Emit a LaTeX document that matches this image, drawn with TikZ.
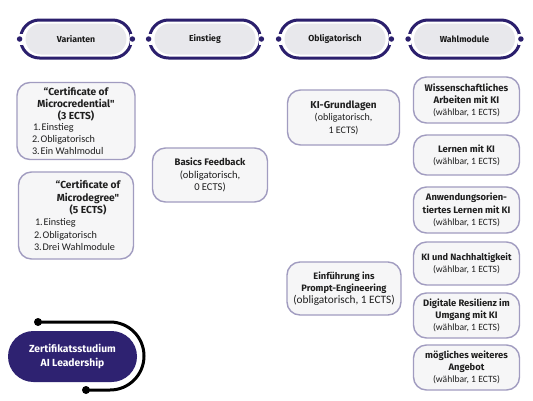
\documentclass[tikz,border=0pt]{standalone}
\usepackage{fontspec}
\setmainfont{Carlito}
\newfontfamily\fira{Fira Sans}
\newcommand{\tb}[2][10]{{\fira\bfseries\fontsize{#1}{12}\selectfont #2}}
\definecolor{ringblue}{HTML}{2B1F6D}
\definecolor{pillgray}{HTML}{E8E8EC}
\definecolor{boxline}{HTML}{A19CC0}
\definecolor{boxfill}{HTML}{F6F6F7}
\definecolor{darkpill}{HTML}{2E2271}
\tikzset{
  ring/.style={draw=ringblue,line width=3pt,rounded corners=19pt,minimum width=111pt,minimum height=38pt,inner sep=0pt},
  inpill/.style={fill=pillgray,rounded corners=15.5pt,minimum width=101pt,minimum height=31pt,inner sep=0pt,font=\fira\bfseries\fontsize{8.7}{10}\selectfont,text=black!90},
  gapbox/.style={fill=white,minimum width=7pt,minimum height=11pt,inner sep=0pt},
  dot/.style={circle,fill=ringblue,minimum size=5.5pt,inner sep=0pt},
  mbox/.style={draw=boxline,line width=1.4pt,fill=boxfill,rounded corners=13pt,align=center,inner sep=1pt,text=black!88},
  fsA/.style={font=\fontsize{10}{12.5}\selectfont},
  fsB/.style={font=\fontsize{10.5}{12.5}\selectfont},
  fsC/.style={font=\fontsize{11.3}{11.8}\selectfont},
  fsW/.style={font=\fontsize{9.6}{12.2}\selectfont},
  bdot/.style={circle,fill=black,minimum size=8pt,inner sep=0pt}
}
\newcommand{\hpill}[3]{%
  \node[ring] (#1) at (#2,39) {};
  \node[gapbox] (#1-gl) at (#1.west) {};
  \node[gapbox] (#1-gr) at (#1.east) {};
  \node[dot] (#1-dl) at ([xshift=0.6pt]#1.west) {};
  \node[dot] (#1-dr) at ([xshift=-0.6pt]#1.east) {};
  \node[inpill] (#1-in) at (#2,39) {#3};
}
\begin{document}
\begin{tikzpicture}[x=1pt,y=-1pt]
\useasboundingbox[fill=white] (0,0) rectangle (533,400);
% header pills
\hpill{h1}{76}{Varianten}
\hpill{h2}{205}{Einstieg}
\hpill{h3}{335}{Obligatorisch}
\hpill{h4}{464.5}{Wahlmodule}
% Varianten
\node[mbox,minimum width=118pt,minimum height=77pt] (v1) at (76,121) {%
  \begin{minipage}{104pt}
  \centering\fira\bfseries\fontsize{10.2}{11.7}\selectfont “Certificate of\\ Microcredential"\\ (3 ECTS)\par
  \raggedright\normalfont\fontsize{10.2}{11.7}\selectfont\hspace*{9pt}1.\kern0.8pt Einstieg\\ \hspace*{8pt}2.\kern0.8pt Obligatorisch\\ \hspace*{8pt}3.\kern0.8pt Ein Wahlmodul\end{minipage}};
\node[mbox,minimum width=115pt,minimum height=87pt] (v2) at (76,215.5) {%
  \begin{minipage}{104pt}
  \centering\fira\bfseries\fontsize{10.2}{12.4}\selectfont\hspace*{24pt}“Certificate of\\ \hspace*{24pt}Microdegree"\\ \hspace*{24pt}(5 ECTS)\par
  \raggedright\normalfont\fontsize{10.2}{12.4}\selectfont\hspace*{11pt}1.\kern0.8pt Einstieg\\ \hspace*{10pt}2.\kern0.8pt Obligatorisch\\ \hspace*{10pt}3.\kern0.8pt Drei Wahlmodule\end{minipage}};
% Einstieg
\node[mbox,fsB,minimum width=115pt,minimum height=54pt] (e1) at (210,175) {\tb[9.5]{Basics Feedback}\\ (obligatorisch,\\ 0 ECTS)};
% Obligatorisch
\node[mbox,fsA,minimum width=112pt,minimum height=55pt] (o1) at (343.5,117.5) {\tb{KI-Grundlagen}\\ (obligatorisch,\\ 1 ECTS)};
\node[mbox,fsC,minimum width=114pt,minimum height=53pt] (o2) at (344,288.5) {\tb[9.3]{Einführung ins}\\ \tb[9.3]{Prompt-Engineering}\\ (obligatorisch, 1 ECTS)};
% Wahlmodule
\node[mbox,fsW,minimum width=106pt,minimum height=46pt] (w1) at (466.5,100) {\tb[9.6]{Wissenschaftliches}\\ \tb[9.6]{Arbeiten mit KI}\\ (wählbar, 1 ECTS)};
\node[mbox,fsW,minimum width=106pt,minimum height=40pt] (w2) at (466.5,155) {\tb[9.4]{Lernen mit KI}\\ (wählbar, 1 ECTS)};
\node[mbox,fsW,minimum width=106pt,minimum height=46pt] (w3) at (466.5,210) {\tb[9.4]{Anwendungsorien-}\\ \tb[9.4]{tiertes Lernen mit KI}\\ (wählbar, 1 ECTS)};
\node[mbox,fsW,minimum width=106pt,minimum height=43pt] (w4) at (466.5,263.5) {\tb[9.2]{KI und Nachhaltigkeit}\\ (wählbar, 1 ECTS)};
\node[mbox,fsW,minimum width=106pt,minimum height=45pt] (w5) at (466.5,315.5) {\tb[9.4]{Digitale Resilienz im}\\ \tb[9.4]{Umgang mit KI}\\ (wählbar, 1 ECTS)};
\node[mbox,fsW,minimum width=106pt,minimum height=45pt] (w6) at (466.5,367.5) {\tb[9.4]{mögliches weiteres}\\ \tb[9.4]{Angebot}\\ (wählbar, 1 ECTS)};
% title pill with black bracket
\coordinate (ct) at (38,322);
\coordinate (cb) at (86,390);
\draw[line width=3pt,black] (ct) -- (110,322) .. controls (128.8,322) and (144,337.2) .. (144,356)
  .. controls (144,374.8) and (128.8,390) .. (110,390) -- (cb);
\node[bdot] (dt) at (ct) {};
\node[bdot] (db) at (cb) {};
\node[fill=darkpill,rounded corners=25.5pt,minimum width=129pt,minimum height=51pt,inner sep=0pt,align=center,text=white,font=\fira\bfseries\fontsize{10.3}{13.5}\selectfont] (title) at (72.5,356.5) {Zertifikatsstudium\\ AI Leadership};
\end{tikzpicture}
\end{document}
